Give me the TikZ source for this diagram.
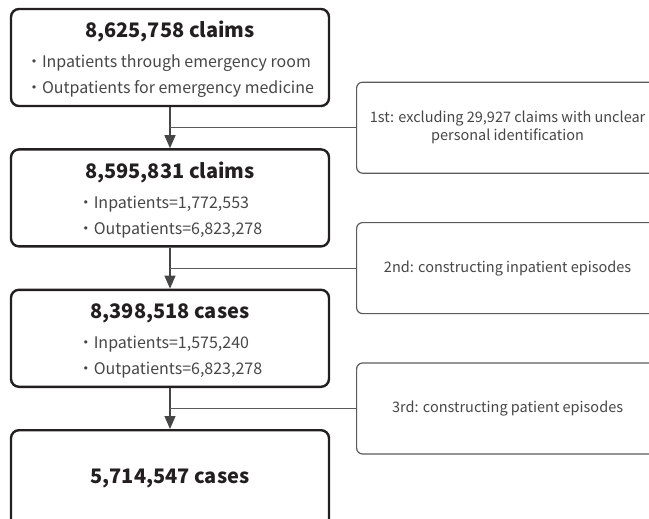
\documentclass[tikz,border=0pt]{standalone}
\usepackage{fontspec}
\setmainfont{Noto Sans CJK KR}
\usepackage{tikz}
\usetikzlibrary{
    arrows.meta,
    positioning,
    calc
}
\definecolor{boxInk}{RGB}{35,31,32}
\definecolor{noteInk}{RGB}{90,90,90}
\definecolor{txtGray}{RGB}{70,70,70}
\tikzset{
  mainbox/.style = {draw=boxInk, line width=2.4pt, rounded corners=8pt,
                    minimum width=318pt, minimum height=97pt, align=center,
                    inner sep=0pt, font=\fontsize{16}{26}\selectfont},
  notebox/.style = {draw=noteInk, line width=1.2pt, rounded corners=6pt,
                    minimum width=302pt, minimum height=91pt, align=center,
                    inner sep=0pt, font=\fontsize{14.5}{18}\selectfont,
                    text=txtGray},
  flow/.style    = {draw=txtGray, line width=1.3pt,
                    -{Triangle[length=13pt,width=11pt]}},
  side/.style    = {draw=noteInk, line width=1.2pt}
}
\newcommand{\ttl}[1]{{\fontsize{20}{26}\selectfont\bfseries\color{boxInk}#1}}
\newcommand{\itm}[1]{{\color{txtGray}・#1}}

\begin{document}
\begin{tikzpicture}[x=1pt, y=-1pt, node distance=41pt]
  \useasboundingbox (0,0) rectangle (649,519);
  \clip (0,0) rectangle (649,519);

  % ── MAIN FLOW ──
  \node[mainbox] (B1) at (170,57.5)
    {\rule{0pt}{24pt}\ttl{8,625,758 claims}\\[4pt]
     \begin{tabular}[t]{@{}l@{}}
       \itm{Inpatients through emergency room}\\
       \itm{Outpatients for emergency medicine}
     \end{tabular}};
  \node[mainbox, below=of B1] (B2)
    {\rule{0pt}{24pt}\ttl{8,595,831 claims}\\[4pt]
     \begin{tabular}[t]{@{}l@{}}
       \itm{Inpatients=1,772,553}\\
       \itm{Outpatients=6,823,278}
     \end{tabular}};
  \node[mainbox, below=of B2] (B3)
    {\rule{0pt}{24pt}\ttl{8,398,518 cases}\\[4pt]
     \begin{tabular}[t]{@{}l@{}}
       \itm{Inpatients=1,575,240}\\
       \itm{Outpatients=6,823,278}
     \end{tabular}};
  \node[mainbox, below=of B3] (B4) {\ttl{5,714,547 cases}};

  \draw[flow] (B1) -- (B2);
  \draw[flow] (B2) -- (B3);
  \draw[flow] (B3) -- (B4);

  % ── EXCLUSION STEPS ──
  \coordinate (J1) at ($(B1.south)!0.5!(B2.north)$);
  \coordinate (J2) at ($(B2.south)!0.5!(B3.north)$);
  \coordinate (J3) at ($(B3.south)!0.5!(B4.north)$);

  \node[notebox, right=186pt of J1] (S1)
    {1st: excluding 29,927 claims with unclear\\personal identification};
  \node[notebox, right=186pt of J2] (S2) {2nd: constructing inpatient episodes};
  \node[notebox, right=186pt of J3] (S3) {3rd: constructing patient episodes};

  \draw[side] (J1) -- (S1.west);
  \draw[side] (J2) -- (S2.west);
  \draw[side] (J3) -- (S3.west);
\end{tikzpicture}
\end{document}
